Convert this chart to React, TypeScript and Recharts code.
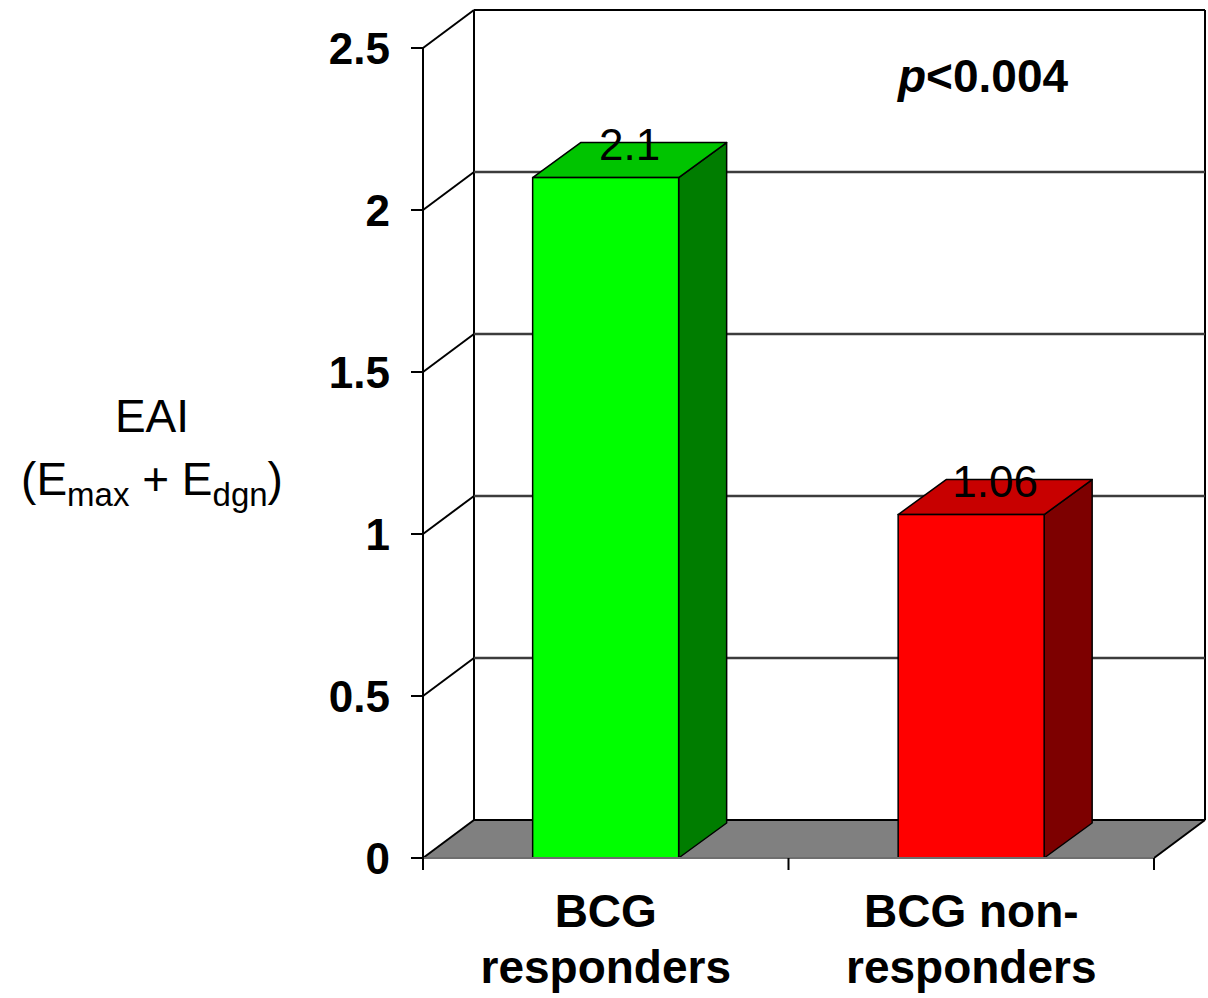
import React from "react";
import { BarChart, Bar, XAxis, YAxis, CartesianGrid, LabelList, Customized } from "recharts";

// EAI per BCG response group
const groups = ["BCG responders", "BCG non-responders"];
const groupLines = [["BCG", "responders"], ["BCG non-", "responders"]];
const eai = [2.1, 1.06];
const eaiTicks = [0, 0.5, 1, 1.5, 2, 2.5];
const pValue = "<0.004";

const faces = [
  { front: "#00ff00", top: "#00c400", side: "#007d00" },
  { front: "#ff0000", top: "#c80000", side: "#7d0000" },
];

const W = 1208;
const H = 998;
const MARGIN = { top: 48, right: 54, left: 0, bottom: 0 };
const Y_AXIS_W = 423;
const X_AXIS_H = 140;
const PLOT_TOP = MARGIN.top;
const PLOT_BOTTOM = H - MARGIN.bottom - X_AXIS_H;
const WALL = { dx: 51, dy: -38 }; // depth of the back wall
const BOX = { dx: 48, dy: -35 }; // depth of each bar
const FONT = '"Liberation Sans", Arial, Helvetica, sans-serif';

const rows = groups.map((g, i) => ({ group: g, eai: eai[i] }));

// each horizontal grid line becomes a side-wall diagonal plus a back-wall line;
// the bottom one also carries the floor and the wall frame
function WallLine(props: any) {
  const { x1, x2, y1, index } = props;
  const bx1 = x1 + WALL.dx;
  const bx2 = x2 + WALL.dx;
  const by = y1 + WALL.dy;
  const isFloor = Math.abs(y1 - PLOT_BOTTOM) < 1;
  const isTop = Math.abs(y1 - PLOT_TOP) < 1;
  return (
    <g key={`wall-${index}`}>
      {isFloor && (
        <>
          <polygon points={`${x1},${y1} ${x2},${y1} ${bx2},${by} ${bx1},${by}`} fill="#808080" />
          <line x1={x2} y1={y1} x2={bx2} y2={by} stroke="#000" strokeWidth={2} />
          <line x1={bx1} y1={PLOT_TOP + WALL.dy} x2={bx1} y2={by} stroke="#000" strokeWidth={2} />
          <line x1={bx2} y1={PLOT_TOP + WALL.dy} x2={bx2} y2={by} stroke="#000" strokeWidth={2} />
        </>
      )}
      <line x1={x1} y1={y1} x2={bx1} y2={by} stroke="#000" strokeWidth={2} />
      <line
        x1={bx1} y1={by} x2={bx2} y2={by}
        stroke={isFloor || isTop ? "#000" : "#3c3c3c"}
        strokeWidth={isFloor || isTop ? 2 : 2.5}
      />
    </g>
  );
}

function Box3D(props: any) {
  const { x, y, width: w, height: h, payload } = props;
  const c = faces[Math.max(0, groups.indexOf(payload?.group))];
  const { dx, dy } = BOX;
  return (
    <g>
      <polygon
        points={`${x + w},${y} ${x + w + dx},${y + dy} ${x + w + dx},${y + h + dy} ${x + w},${y + h}`}
        fill={c.side} stroke="#000" strokeWidth={1.5} strokeLinejoin="round"
      />
      <polygon
        points={`${x},${y} ${x + dx},${y + dy} ${x + w + dx},${y + dy} ${x + w},${y}`}
        fill={c.top} stroke="#000" strokeWidth={1.5} strokeLinejoin="round"
      />
      <rect x={x} y={y} width={w} height={h} fill={c.front} stroke="#000" strokeWidth={1.5} />
    </g>
  );
}

function ValueLabel(props: any) {
  const { x, y, width, value } = props;
  return (
    <text
      x={x + width / 2 + BOX.dx / 2} y={y + BOX.dy / 2}
      textAnchor="middle" fontSize={44} fontFamily={FONT} fill="#000"
    >
      {value}
    </text>
  );
}

function GroupTick(props: any) {
  const { x, y, payload, index, visibleTicksCount } = props;
  const half = payload?.offset ?? 0;
  const lines = groupLines[groups.indexOf(payload.value)] ?? [payload.value];
  return (
    <g>
      <line x1={x - half} y1={y} x2={x - half} y2={y + 12} stroke="#000" strokeWidth={2} />
      {index === visibleTicksCount - 1 && (
        <line x1={x + half} y1={y} x2={x + half} y2={y + 12} stroke="#000" strokeWidth={2} />
      )}
      <text textAnchor="middle" fontSize={46} fontWeight="bold" fontFamily={FONT} fill="#000">
        {lines.map((l, i) => (
          <tspan key={i} x={x} y={y + 69 + i * 56}>{l}</tspan>
        ))}
      </text>
    </g>
  );
}

function Annotations() {
  return (
    <g fontFamily={FONT} fill="#000">
      <text x={152} y={432} textAnchor="middle" fontSize={46}>EAI</text>
      <text x={152} y={495} textAnchor="middle" fontSize={46}>
        (E<tspan fontSize={33} dy={11}>max</tspan>
        <tspan dy={-11}> + E</tspan>
        <tspan fontSize={33} dy={11}>dgn</tspan>
        <tspan dy={-11}>)</tspan>
      </text>
      <text x={898} y={92} fontSize={46} fontWeight="bold">
        <tspan fontStyle="italic">p</tspan>{pValue}
      </text>
    </g>
  );
}

export default function App() {
  return (
    <div style={{ position: "absolute", left: 0, top: 0, width: W, height: H, background: "#fff" }}>
      <BarChart width={W} height={H} data={rows} margin={MARGIN} barCategoryGap="30%">
        <CartesianGrid horizontal={WallLine} vertical={false} />
        <XAxis
          dataKey="group" height={X_AXIS_H} tickSize={0} tickMargin={0} tickLine={false}
          axisLine={{ stroke: "#6e6e6e", strokeWidth: 2 }} tick={GroupTick} interval={0}
        />
        <YAxis
          domain={[0, 2.5]} ticks={eaiTicks} width={Y_AXIS_W} interval={0}
          tickSize={12} tickMargin={21}
          axisLine={{ stroke: "#000", strokeWidth: 2 }}
          tickLine={{ stroke: "#000", strokeWidth: 2 }}
          tick={{ fontSize: 44, fontWeight: "bold", fill: "#000", fontFamily: FONT }}
        />
        <Bar dataKey="eai" shape={Box3D} isAnimationActive={false}>
          <LabelList dataKey="eai" content={ValueLabel} />
        </Bar>
        <Customized component={Annotations} />
      </BarChart>
    </div>
  );
}
